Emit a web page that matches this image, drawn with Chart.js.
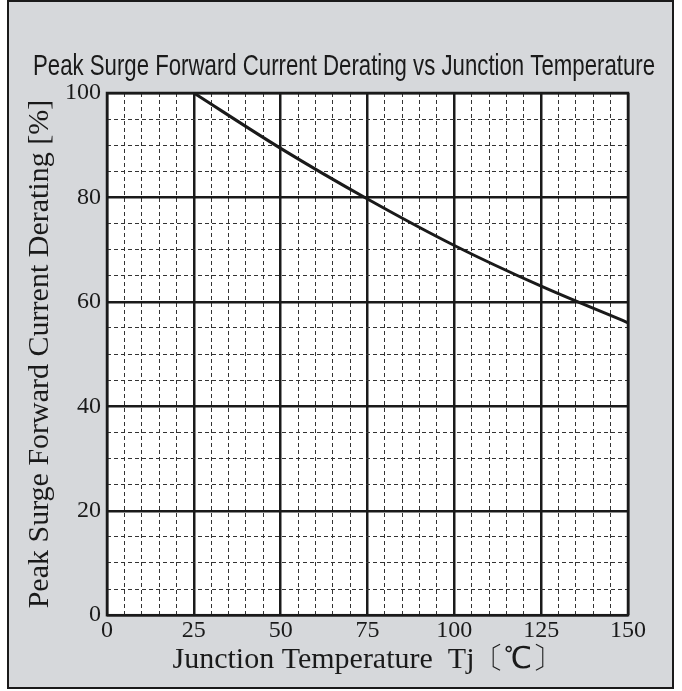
<!DOCTYPE html>
<html>
<head>
<meta charset="utf-8">
<script src="https://cdn.jsdelivr.net/npm/chart.js@4.4.1/dist/chart.umd.min.js"></script>
<style>
  html, body { margin: 0; padding: 0; background: #ffffff; }
  #wrap { width: 682px; height: 691px; position: relative; }
</style>
</head>
<body>
<div id="wrap"><canvas id="derating"></canvas></div>
<script>
// Peak surge forward current derating vs junction temperature

// ===== data =====
const tempC = [25, 50, 75, 100, 125, 150];
const deratingPct = [100, 89.4, 79.7, 70.8, 63.0, 56.0];

// labelled ticks (grid runs every 5)
const xTicks = [0, 25, 50, 75, 100, 125, 150];
const yTicks = [0, 20, 40, 60, 80, 100];

const chartTitle = "Peak Surge Forward Current Derating vs Junction Temperature";
const serif = "'Liberation Serif', 'Times New Roman', serif";

// gray panel, black frame and the condensed title
const panelBg = {
  id: "panelBg",
  beforeDraw(chart) {
    const ctx = chart.ctx;
    const a = chart.chartArea;
    ctx.save();
    ctx.fillStyle = "#ffffff";
    ctx.fillRect(0, 0, chart.width, chart.height);
    ctx.fillStyle = "#d6d8db";
    ctx.fillRect(8, 1, 665, 687);
    ctx.strokeStyle = "#1a1a1a";
    ctx.lineWidth = 2;
    ctx.strokeRect(8, 1, 665, 687);
    ctx.fillStyle = "#ffffff";
    ctx.fillRect(a.left, a.top, a.right - a.left, a.bottom - a.top);

    // title squeezed to the width it has in the picture
    ctx.font = "30px 'Liberation Sans Narrow', 'Liberation Sans', Arial, sans-serif";
    ctx.fillStyle = "#1a1a1a";
    ctx.textAlign = "center";
    ctx.textBaseline = "alphabetic";
    const w = ctx.measureText(chartTitle).width;
    const sx = 622 / w;
    ctx.translate(344, 75);
    ctx.scale(sx, 1);
    ctx.fillText(chartTitle, 0, 0);
    ctx.restore();
  },
  afterDatasetsDraw(chart) {
    // plot frame
    const ctx = chart.ctx;
    const a = chart.chartArea;
    ctx.save();
    ctx.strokeStyle = "#1a1a1a";
    ctx.lineWidth = 2.5;
    ctx.strokeRect(a.left, a.top, a.right - a.left, a.bottom - a.top);
    ctx.restore();
  }
};

const isMajorX = (v) => xTicks.includes(v);
const isMajorY = (v) => yTicks.includes(v);

new Chart(document.getElementById("derating").getContext("2d"), {
  type: "line",
  data: {
    datasets: [
      {
        data: tempC.map((t, i) => ({ x: t, y: deratingPct[i] })),
        borderColor: "#1a1a1a",
        borderWidth: 3,
        pointRadius: 0,
        cubicInterpolationMode: "monotone",
        fill: false
      }
    ]
  },
  options: {
    responsive: true,
    maintainAspectRatio: false,
    animation: false,
    layout: { padding: { left: 22, right: 54, top: 93, bottom: 13 } },
    plugins: {
      legend: { display: false },
      tooltip: { enabled: false },
      title: { display: false }
    },
    scales: {
      x: {
        type: "linear",
        min: 0,
        max: 150,
        ticks: {
          stepSize: 5,
          autoSkip: false,
          maxRotation: 0,
          color: "#1a1a1a",
          padding: 1,
          font: { family: serif, size: 24 },
          callback: (v) => (isMajorX(v) ? String(v) : "")
        },
        grid: {
          drawTicks: false,
          color: (c) => (isMajorX(c.tick.value) ? "#1a1a1a" : "#333333"),
          lineWidth: (c) => (isMajorX(c.tick.value) ? 2.5 : 1)
        },
        border: {
          display: false,
          dash: (c) => (c.tick && isMajorX(c.tick.value) ? [] : [4, 3])
        },
        title: {
          display: true,
          text: "Junction Temperature  Tj〔℃〕",
          color: "#1a1a1a",
          font: { family: serif, size: 30 },
          padding: { top: -4, bottom: 0 }
        }
      },
      y: {
        type: "linear",
        min: 0,
        max: 100,
        ticks: {
          stepSize: 5,
          autoSkip: false,
          color: "#1a1a1a",
          padding: 6,
          font: { family: serif, size: 24 },
          callback: (v) => (isMajorY(v) ? String(v) : "")
        },
        grid: {
          drawTicks: false,
          color: (c) => (isMajorY(c.tick.value) ? "#1a1a1a" : "#333333"),
          lineWidth: (c) => (isMajorY(c.tick.value) ? 2.5 : 1)
        },
        border: {
          display: false,
          dash: (c) => (c.tick && isMajorY(c.tick.value) ? [] : [4, 3])
        },
        title: {
          display: true,
          text: "Peak Surge Forward Current Derating [%]",
          color: "#1a1a1a",
          font: { family: serif, size: 30 },
          padding: { top: 0, bottom: 1 }
        }
      }
    }
  },
  plugins: [panelBg]
});
</script>
</body>
</html>
